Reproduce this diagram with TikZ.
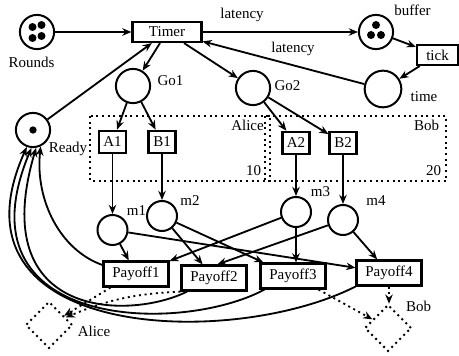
\documentclass[tikz,border=0pt]{standalone}
\usepackage{fontspec}
\setmainfont{Liberation Serif}
\usepackage{tikz}
\usetikzlibrary{arrows.meta,shapes.geometric}
\tikzstyle{myplace} = [draw, circle, line width=1.2pt, minimum size=20.5pt, inner sep=0pt]
\tikzstyle{mysmallplace} = [myplace, minimum size=18pt]
\tikzstyle{mytrans} = [draw, rectangle, line width=1.3pt, inner sep=0pt, minimum height=13.5pt]
\tikzstyle{mypayoff} = [mytrans, minimum width=39pt, minimum height=15pt]
\tikzstyle{myplayer} = [draw, diamond, line width=1.2pt, dash pattern=on 1.2pt off 2.2pt, minimum size=28pt, inner sep=0pt]
\tikzstyle{myzone} = [line width=1.2pt, dash pattern=on 1.2pt off 2.2pt]
\tikzstyle{mylabel} = [inner sep=0pt]
\tikzstyle{myarrow} = [-{Stealth[length=5.5pt,width=4.5pt]}, line width=1.1pt]
\tikzstyle{mydotarrow} = [myarrow, dash pattern=on 1.2pt off 2.2pt]

\begin{document}
\begin{tikzpicture}[x=0.6pt, y=-0.6pt, font=\fontsize{9}{11}\selectfont]
\useasboundingbox (0,0) rectangle (459,356);

% players' zones
\draw[myzone] (90,116) rectangle (270,181);
\draw[myzone] (265,116) rectangle (446,181);

% places
\node[myplace] (rounds) at (37,32) {};
\node[myplace] (buffer) at (376,32) {};
\node[myplace, minimum size=22pt] (time) at (383,89) {};
\node[myplace] (go1) at (133,86) {};
\node[myplace] (go2) at (253,88) {};
\node[myplace] (ready) at (33,130) {};
\node[mysmallplace] (m1) at (112.5,230) {};
\node[mysmallplace] (m2) at (162,216) {};
\node[mysmallplace] (m3) at (296,212) {};
\node[mysmallplace] (m4) at (343,220) {};

% tokens
\foreach \dx/\dy in {-4.5/-5, 4.5/-7, -4.5/6, 4.5/4}
  \fill ([shift={(\dx,\dy)}]rounds.center) circle[radius=2.4pt];
\foreach \dx/\dy in {0/-7, -5/3, 5/3}
  \fill ([shift={(\dx,\dy)}]buffer.center) circle[radius=2.4pt];
\fill (ready.center) circle[radius=2.2pt];

% transitions
\node[mytrans, minimum width=41.4pt, minimum height=12pt] (timer) at (167,32) {Timer};
\node[mytrans, minimum width=24.6pt, minimum height=12pt] (tick) at (437.5,55) {tick};
\node[mytrans, minimum width=16.2pt] (a1) at (112.5,142) {A1};
\node[mytrans, minimum width=16.2pt] (b1) at (162,142) {B1};
\node[mytrans, minimum width=16.2pt] (a2) at (296,143) {A2};
\node[mytrans, minimum width=16.2pt] (b2) at (343,143) {B2};
\node[mypayoff] (pay1) at (136,274) {Payoff1};
\node[mypayoff] (pay2) at (214,278) {Payoff2};
\node[mypayoff] (pay3) at (293,276) {Payoff3};
\node[mypayoff] (pay4) at (389,273) {Payoff4};

% players
\node[myplayer] (alice) at (49,325) {};
\node[myplayer] (bob) at (388,328) {};

% labels
\node[mylabel] (roundslabel) at (31.5,62.5) {Rounds};
\node[mylabel] (bufferlabel) at (412.5,10) {buffer};
\node[mylabel] (latencyout) at (242,15) {latency};
\node[mylabel] (latencyback) at (293,49) {latency};
\node[mylabel] (timelabel) at (424,97) {time};
\node[mylabel] (go1label) at (170.5,81) {Go1};
\node[mylabel] (go2label) at (287.5,86) {Go2};
\node[mylabel] (readylabel) at (68,149) {Ready};
\node[mylabel] (alicezone) at (247.5,125) {Alice};
\node[mylabel] (bobzone) at (426.5,125) {Bob};
\node[mylabel] (alicestake) at (253.5,171) {10};
\node[mylabel] (bobstake) at (433.5,171) {20};
\node[mylabel] (m1label) at (136.5,210.5) {m1};
\node[mylabel] (m2label) at (190,201) {m2};
\node[mylabel] (m3label) at (320.5,192) {m3};
\node[mylabel] (m4label) at (376,201) {m4};
\node[mylabel] (alicelabel) at (94,331) {Alice};
\node[mylabel] (boblabel) at (418.5,306) {Bob};

% clock
\draw[myarrow] (rounds) -- (timer);
\draw[myarrow] (timer) -- (buffer);
\draw[myarrow] (buffer) -- (tick);
\draw[myarrow] (tick) -- (time);
\draw[myarrow] (time) -- (timer);
\draw[myarrow] (ready) -- (timer);
\draw[myarrow] (timer) -- (go1);
\draw[myarrow] (timer) -- (go2);

% moves
\draw[myarrow] (go1) -- (a1);
\draw[myarrow] (go1) -- (b1);
\draw[myarrow] (go2) -- (a2);
\draw[myarrow] (go2) -- (b2);
\draw[myarrow] (a1) -- (m1);
\draw[myarrow] (b1) -- (m2);
\draw[myarrow] (a2) -- (m3);
\draw[myarrow] (b2) -- (m4);

% outcomes
\draw[myarrow] (m1) -- (pay1);
\draw[myarrow] (m1) -- (pay4);
\draw[myarrow] (m2) -- (pay2);
\draw[myarrow] (m2) -- (pay3);
\draw[myarrow] (m3) -- (pay1);
\draw[myarrow] (m3) -- (m3 |- pay3.north);
\draw[myarrow] (m4) -- ([xshift=2pt]pay2.north);
\draw[myarrow] (m4) -- (pay4);

% back to ready
\draw[myarrow] (pay1.165) .. controls (60,250) and (35,200) .. (ready.-65);
\draw[myarrow] ([xshift=4pt]pay2.south west) .. controls (130,320) and (-15,320) .. (ready.-80);
\draw[myarrow] ([xshift=3pt]pay3.south west) .. controls (180,335) and (-45,330) .. (ready.-95);
\draw[myarrow] (pay4.south west) .. controls (230,350) and (-60,340) .. (ready.-110);

% payments
\draw[mydotarrow] (pay1.-152) -- (alice);
\draw[mydotarrow] (pay2.south west) to[bend right=10] (alice);
\draw[mydotarrow] (pay3.-28) -- (bob);
\draw[mydotarrow] (pay4.south) -- (pay4.south |- bob.north);
\end{tikzpicture}
\end{document}
